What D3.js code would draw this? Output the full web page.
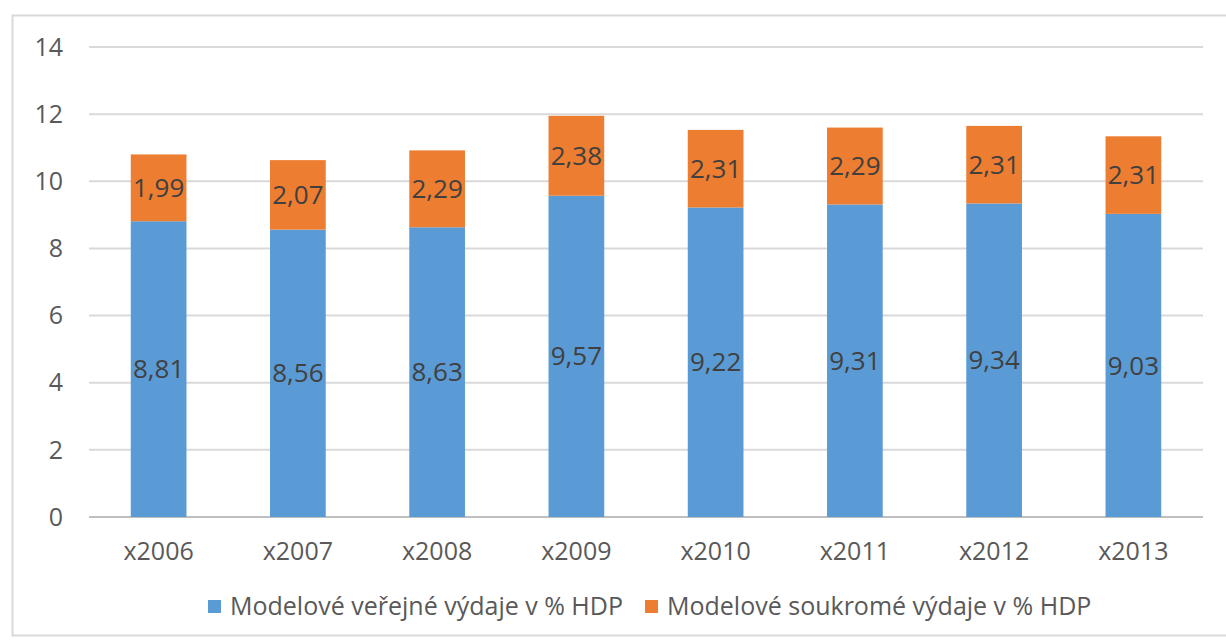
<!DOCTYPE html>
<html>
<head>
<meta charset="utf-8">
<style>
body { margin: 0; background: #fff; }
text { font-family: "Open Sans", sans-serif; }
</style>
</head>
<body>
<script src="https://cdn.jsdelivr.net/npm/d3@7"></script>
<script>

// data
var years = ["x2006", "x2007", "x2008", "x2009", "x2010", "x2011", "x2012", "x2013"];
var verejne = [8.81, 8.56, 8.63, 9.57, 9.22, 9.31, 9.34, 9.03];
var soukrome = [1.99, 2.07, 2.29, 2.38, 2.31, 2.29, 2.31, 2.31];
var yTicks = [0, 2, 4, 6, 8, 10, 12, 14];
var seriesNames = ["Modelové veřejné výdaje v % HDP", "Modelové soukromé výdaje v % HDP"];
var colors = ["#5b9bd5", "#ed7d31"];

var width = 1226, height = 640;

var svg = d3.select("body").append("svg")
    .attr("width", width)
    .attr("height", height);

// outer frame
svg.append("rect")
    .attr("x", 12.5).attr("y", 15.5)
    .attr("width", 1230).attr("height", 620)
    .attr("fill", "#fff")
    .attr("stroke", "#d9d9d9")
    .attr("stroke-width", 2);

var x = d3.scaleBand()
    .domain(years)
    .range([89, 1203])
    .paddingInner(0.6)
    .paddingOuter(0.3);

var y = d3.scaleLinear()
    .domain([0, 14])
    .range([517, 47]);

// gridlines
svg.append("g")
  .selectAll("line")
  .data(yTicks)
  .enter().append("line")
    .attr("x1", 89).attr("x2", 1203)
    .attr("y1", function(d) { return y(d); })
    .attr("y2", function(d) { return y(d); })
    .attr("stroke", function(d) { return d == 0 ? "#bfbfbf" : "#d9d9d9"; })
    .attr("stroke-width", 2);

// y tick labels
svg.append("g")
  .selectAll("text")
  .data(yTicks)
  .enter().append("text")
    .attr("x", 63)
    .attr("y", function(d) { return y(d); })
    .attr("dy", "0.35em")
    .attr("text-anchor", "end")
    .attr("fill", "#595959")
    .style("font-size", "25px")
    .text(function(d) { return d; });

// x labels
svg.append("g")
  .selectAll("text")
  .data(years)
  .enter().append("text")
    .attr("x", function(d) { return x(d) + x.bandwidth() / 2; })
    .attr("y", 551)
    .attr("dy", "0.35em")
    .attr("text-anchor", "middle")
    .attr("fill", "#595959")
    .style("font-size", "25px")
    .text(function(d) { return d; });

var rows = years.map(function(yr, i) {
  return { year: yr, v: verejne[i], s: soukrome[i] };
});

var stack = d3.stack().keys(["v", "s"])(rows);
var fmt = function(n) { return n.toFixed(2).replace(".", ","); };

stack.forEach(function(layer, li) {
  var g = svg.append("g");
  g.selectAll("rect")
    .data(layer)
    .enter().append("rect")
      .attr("x", function(d) { return x(d.data.year); })
      .attr("width", x.bandwidth())
      .attr("y", function(d) { return y(d[1]); })
      .attr("height", function(d) { return y(d[0]) - y(d[1]); })
      .attr("fill", colors[li]);

  g.selectAll("text")
    .data(layer)
    .enter().append("text")
      .attr("x", function(d) { return x(d.data.year) + x.bandwidth() / 2; })
      .attr("y", function(d) { return y((d[0] + d[1]) / 2); })
      .attr("dy", "0.35em")
      .attr("text-anchor", "middle")
      .attr("fill", "#404040")
      .style("font-size", "26px")
      .text(function(d) { return fmt(d[1] - d[0]); });
});

// legend
var legendX = [208, 645];
var legend = svg.append("g");
seriesNames.forEach(function(name, i) {
  legend.append("rect")
    .attr("x", legendX[i]).attr("y", 600)
    .attr("width", 13).attr("height", 13)
    .attr("fill", colors[i]);
  legend.append("text")
    .attr("x", legendX[i] + 22)
    .attr("y", 606)
    .attr("dy", "0.35em")
    .attr("fill", "#595959")
    .style("font-size", "25px")
    .text(name);
});

</script>
</body>
</html>
